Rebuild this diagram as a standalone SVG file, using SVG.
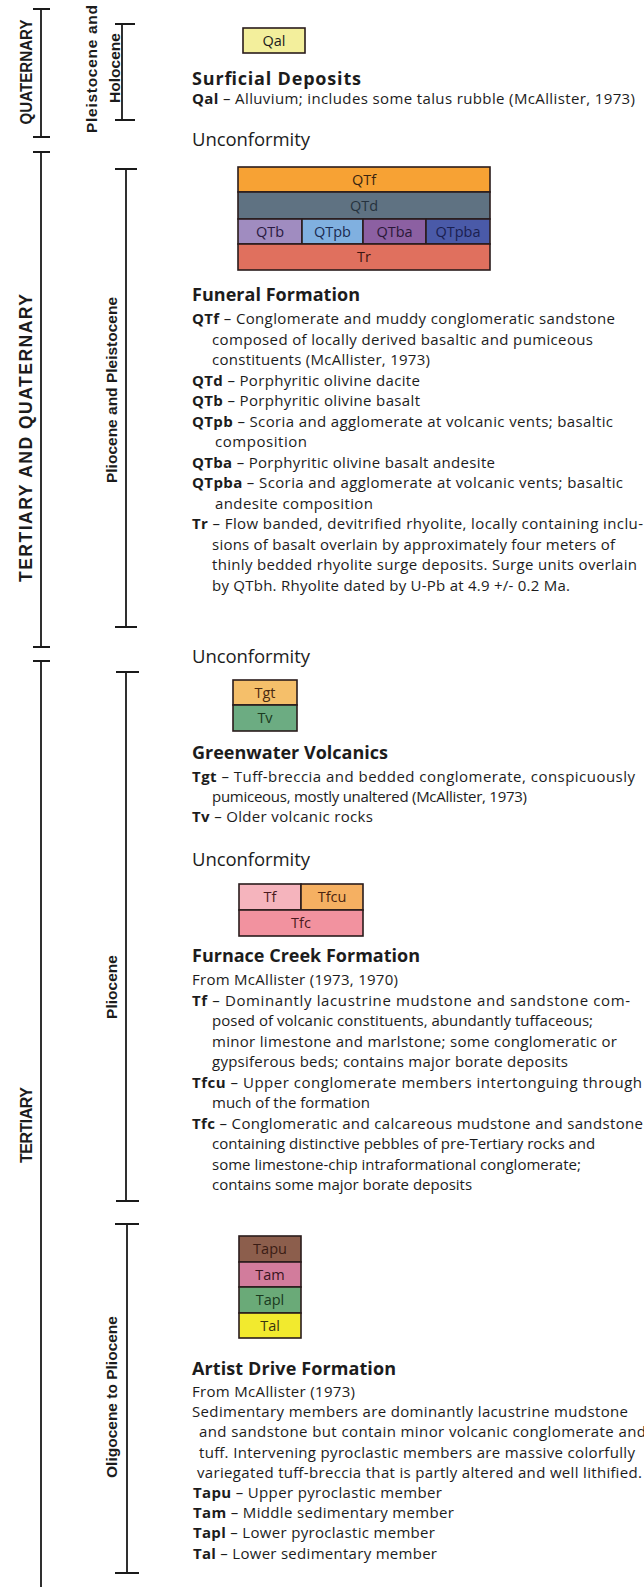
<svg xmlns="http://www.w3.org/2000/svg" width="644" height="1587" viewBox="0 0 644 1587">
<style>
text{font-family:"Open Sans","Liberation Sans",Arial,sans-serif;fill:#1c1c1c}
.box{stroke:#2a1c1c;stroke-width:1.6}
.bl{font-size:14.5px;text-anchor:middle}
.hd{font-size:18px;font-weight:bold}
.tx{font-size:15px}
.un{font-size:18.5px}
.b{font-weight:bold}
.br{stroke:#1a1a1a;stroke-width:1.8;fill:none}
.lab{font-family:"Liberation Sans",Arial,sans-serif;font-size:15.5px;font-weight:bold;text-anchor:middle}
</style>
<rect width="644" height="1587" fill="#ffffff"/>

<g id="brackets">
<path class="br" d="M41 9V137M33 9H50M33 137H50"/>
<path class="br" d="M41 152V647M33 152H50M33 647H50"/>
<path class="br" d="M41 661V1587M33 661H50"/>
<path class="br" d="M122 24V120M115 24H135M115 120H135"/>
<path class="br" d="M126 169V627M115 169H137M115 627H137"/>
<path class="br" d="M126 672V1201M116 672H139M116 1201H139"/>
<path class="br" d="M127 1224V1573M115 1224H139M115 1573H139"/>
</g>

<g id="age-labels">
<text class="lab" transform="translate(32,72) rotate(-90)" style="font-size:16.5px" textLength="105" lengthAdjust="spacingAndGlyphs">QUATERNARY</text>
<text class="lab" transform="translate(97,69) rotate(-90)" style="font-size:15.5px" textLength="128">Pleistocene and</text>
<text class="lab" transform="translate(120,68) rotate(-90)" style="font-size:15.5px" textLength="70">Holocene</text>
<text class="lab" transform="translate(32,438) rotate(-90)" style="font-size:17.5px" textLength="288">TERTIARY AND QUATERNARY</text>
<text class="lab" transform="translate(117,390) rotate(-90)">Pliocene and Pleistocene</text>
<text class="lab" transform="translate(32,1125) rotate(-90)" style="font-size:16px" textLength="76">TERTIARY</text>
<text class="lab" transform="translate(117,987) rotate(-90)">Pliocene</text>
<text class="lab" transform="translate(117,1397) rotate(-90)">Oligocene to Pliocene</text>
</g>

<g id="surficial">
<g id="Qal"><rect class="box" x="243" y="28" width="62" height="25" fill="#f3ef9c"/><text class="bl" x="274" y="45.5">Qal</text></g>
<text class="hd" x="192" y="85" textLength="169">Surficial Deposits</text>
<text class="tx" x="192" y="104" textLength="443"><tspan class="b">Qal</tspan> – Alluvium; includes some talus rubble (McAllister, 1973)</text>
</g>

<g id="unconformity-1"><text class="un" x="192" y="146" textLength="118">Unconformity</text></g>

<g id="funeral">
<g id="QTf"><rect class="box" x="238" y="167" width="252" height="25" fill="#f7a234"/><text class="bl" x="364" y="184.5" style="fill:#3a2410">QTf</text></g>
<g id="QTd"><rect class="box" x="238" y="192" width="252" height="27" fill="#5f7282"/><text class="bl" x="364" y="210.5" style="fill:#26323e">QTd</text></g>
<g id="QTb"><rect class="box" x="238" y="219" width="64" height="25" fill="#a08cc0"/><text class="bl" x="270" y="236.5" style="fill:#2a1a40">QTb</text></g>
<g id="QTpb"><rect class="box" x="302" y="219" width="61" height="25" fill="#80b0e0"/><text class="bl" x="332.5" y="236.5" style="fill:#1a2a50">QTpb</text></g>
<g id="QTba"><rect class="box" x="363" y="219" width="63" height="25" fill="#8c60a2"/><text class="bl" x="394.5" y="236.5" style="fill:#2a1838">QTba</text></g>
<g id="QTpba"><rect class="box" x="426" y="219" width="64" height="25" fill="#4a5aa8"/><text class="bl" x="458" y="236.5" style="fill:#1a2050">QTpba</text></g>
<g id="Tr"><rect class="box" x="238" y="244" width="252" height="26" fill="#e0705e"/><text class="bl" x="364" y="262" style="fill:#3a1510">Tr</text></g>
<text class="hd" x="192" y="300.5" textLength="168">Funeral Formation</text>
<text class="tx" x="192" y="324" textLength="423"><tspan class="b">QTf</tspan> – Conglomerate and muddy conglomeratic sandstone</text>
<text class="tx" x="212" y="344.5" textLength="381">composed of locally derived basaltic and pumiceous</text>
<text class="tx" x="212" y="365" textLength="218">constituents (McAllister, 1973)</text>
<text class="tx" x="192" y="385.5" textLength="228"><tspan class="b">QTd</tspan> – Porphyritic olivine dacite</text>
<text class="tx" x="192" y="406" textLength="228"><tspan class="b">QTb</tspan> – Porphyritic olivine basalt</text>
<text class="tx" x="192" y="426.5" textLength="421"><tspan class="b">QTpb</tspan> – Scoria and agglomerate at volcanic vents; basaltic</text>
<text class="tx" x="215" y="447" textLength="92">composition</text>
<text class="tx" x="192" y="467.5" textLength="303"><tspan class="b">QTba</tspan> – Porphyritic olivine basalt andesite</text>
<text class="tx" x="192" y="488" textLength="431"><tspan class="b">QTpba</tspan> – Scoria and agglomerate at volcanic vents; basaltic</text>
<text class="tx" x="215" y="508.5" textLength="158">andesite composition</text>
<text class="tx" x="192" y="529" textLength="451"><tspan class="b">Tr</tspan> – Flow banded, devitrified rhyolite, locally containing inclu-</text>
<text class="tx" x="212" y="549.5" textLength="403">sions of basalt overlain by approximately four meters of</text>
<text class="tx" x="212" y="570" textLength="425">thinly bedded rhyolite surge deposits. Surge units overlain</text>
<text class="tx" x="212" y="590.5" textLength="358">by QTbh. Rhyolite dated by U-Pb at 4.9 +/- 0.2 Ma.</text>
</g>

<g id="unconformity-2"><text class="un" x="192" y="663" textLength="118">Unconformity</text></g>

<g id="greenwater">
<g id="Tgt"><rect class="box" x="233" y="680" width="64" height="25" fill="#f5bf6a"/><text class="bl" x="265" y="697.5" style="fill:#4a2a10">Tgt</text></g>
<g id="Tv"><rect class="box" x="233" y="705" width="64" height="26" fill="#6cac82"/><text class="bl" x="265" y="723" style="fill:#1a3a20">Tv</text></g>
<text class="hd" x="192" y="759" textLength="196">Greenwater Volcanics</text>
<text class="tx" x="192" y="782" textLength="443"><tspan class="b">Tgt</tspan> – Tuff-breccia and bedded conglomerate, conspicuously</text>
<text class="tx" x="212" y="802" textLength="315">pumiceous, mostly unaltered (McAllister, 1973)</text>
<text class="tx" x="192" y="822" textLength="181"><tspan class="b">Tv</tspan> – Older volcanic rocks</text>
</g>

<g id="unconformity-3"><text class="un" x="192" y="866" textLength="118">Unconformity</text></g>

<g id="furnace-creek">
<g id="Tf"><rect class="box" x="239" y="884" width="62" height="26" fill="#f5b4bd"/><text class="bl" x="270" y="902" style="fill:#4a1a20">Tf</text></g>
<g id="Tfcu"><rect class="box" x="301" y="884" width="62" height="26" fill="#f5b062"/><text class="bl" x="332" y="902" style="fill:#4a2410">Tfcu</text></g>
<g id="Tfc"><rect class="box" x="239" y="910" width="124" height="26" fill="#f2929f"/><text class="bl" x="301" y="928" style="fill:#4a1a20">Tfc</text></g>
<text class="hd" x="192" y="962" textLength="228">Furnace Creek Formation</text>
<text class="tx" x="192" y="985" textLength="206">From McAllister (1973, 1970)</text>
<text class="tx" x="192" y="1005.5" textLength="438"><tspan class="b">Tf</tspan> – Dominantly lacustrine mudstone and sandstone com-</text>
<text class="tx" x="212" y="1026" textLength="381">posed of volcanic constituents, abundantly tuffaceous;</text>
<text class="tx" x="212" y="1046.5" textLength="405">minor limestone and marlstone; some conglomeratic or</text>
<text class="tx" x="212" y="1067" textLength="356">gypsiferous beds; contains major borate deposits</text>
<text class="tx" x="192" y="1087.5" textLength="450"><tspan class="b">Tfcu</tspan> – Upper conglomerate members intertonguing through</text>
<text class="tx" x="212" y="1108">much of the formation</text>
<text class="tx" x="192" y="1128.5" textLength="451"><tspan class="b">Tfc</tspan> – Conglomeratic and calcareous mudstone and sandstone</text>
<text class="tx" x="212" y="1149">containing distinctive pebbles of pre-Tertiary rocks and</text>
<text class="tx" x="212" y="1169.5">some limestone-chip intraformational conglomerate;</text>
<text class="tx" x="212" y="1190">contains some major borate deposits</text>
</g>

<g id="artist-drive">
<g id="Tapu"><rect class="box" x="239" y="1236" width="62" height="26" fill="#8c5e4c"/><text class="bl" x="270" y="1254" style="fill:#3a1c14">Tapu</text></g>
<g id="Tam"><rect class="box" x="239" y="1262" width="62" height="25" fill="#d27c9c"/><text class="bl" x="270" y="1279.5" style="fill:#3a1420">Tam</text></g>
<g id="Tapl"><rect class="box" x="239" y="1287" width="62" height="26" fill="#6aaa78"/><text class="bl" x="270" y="1305" style="fill:#1a3a20">Tapl</text></g>
<g id="Tal"><rect class="box" x="239" y="1313" width="62" height="25" fill="#f2ea2e"/><text class="bl" x="270" y="1330.5" style="fill:#3a3410">Tal</text></g>
<text class="hd" x="192" y="1375" textLength="204">Artist Drive Formation</text>
<text class="tx" x="192" y="1397" textLength="163">From McAllister (1973)</text>
<text class="tx" x="192" y="1417.2" textLength="436">Sedimentary members are dominantly lacustrine mudstone</text>
<text class="tx" x="199" y="1437.4" textLength="447">and sandstone but contain minor volcanic conglomerate and</text>
<text class="tx" x="199" y="1457.6" textLength="436">tuff. Intervening pyroclastic members are massive colorfully</text>
<text class="tx" x="197" y="1477.8" textLength="445">variegated tuff-breccia that is partly altered and well lithified.</text>
<text class="tx" x="193" y="1498" textLength="249"><tspan class="b">Tapu</tspan> – Upper pyroclastic member</text>
<text class="tx" x="193" y="1518.2" textLength="261"><tspan class="b">Tam</tspan> – Middle sedimentary member</text>
<text class="tx" x="193" y="1538.4" textLength="242"><tspan class="b">Tapl</tspan> – Lower pyroclastic member</text>
<text class="tx" x="193" y="1558.6" textLength="244"><tspan class="b">Tal</tspan> – Lower sedimentary member</text>
</g>
</svg>
